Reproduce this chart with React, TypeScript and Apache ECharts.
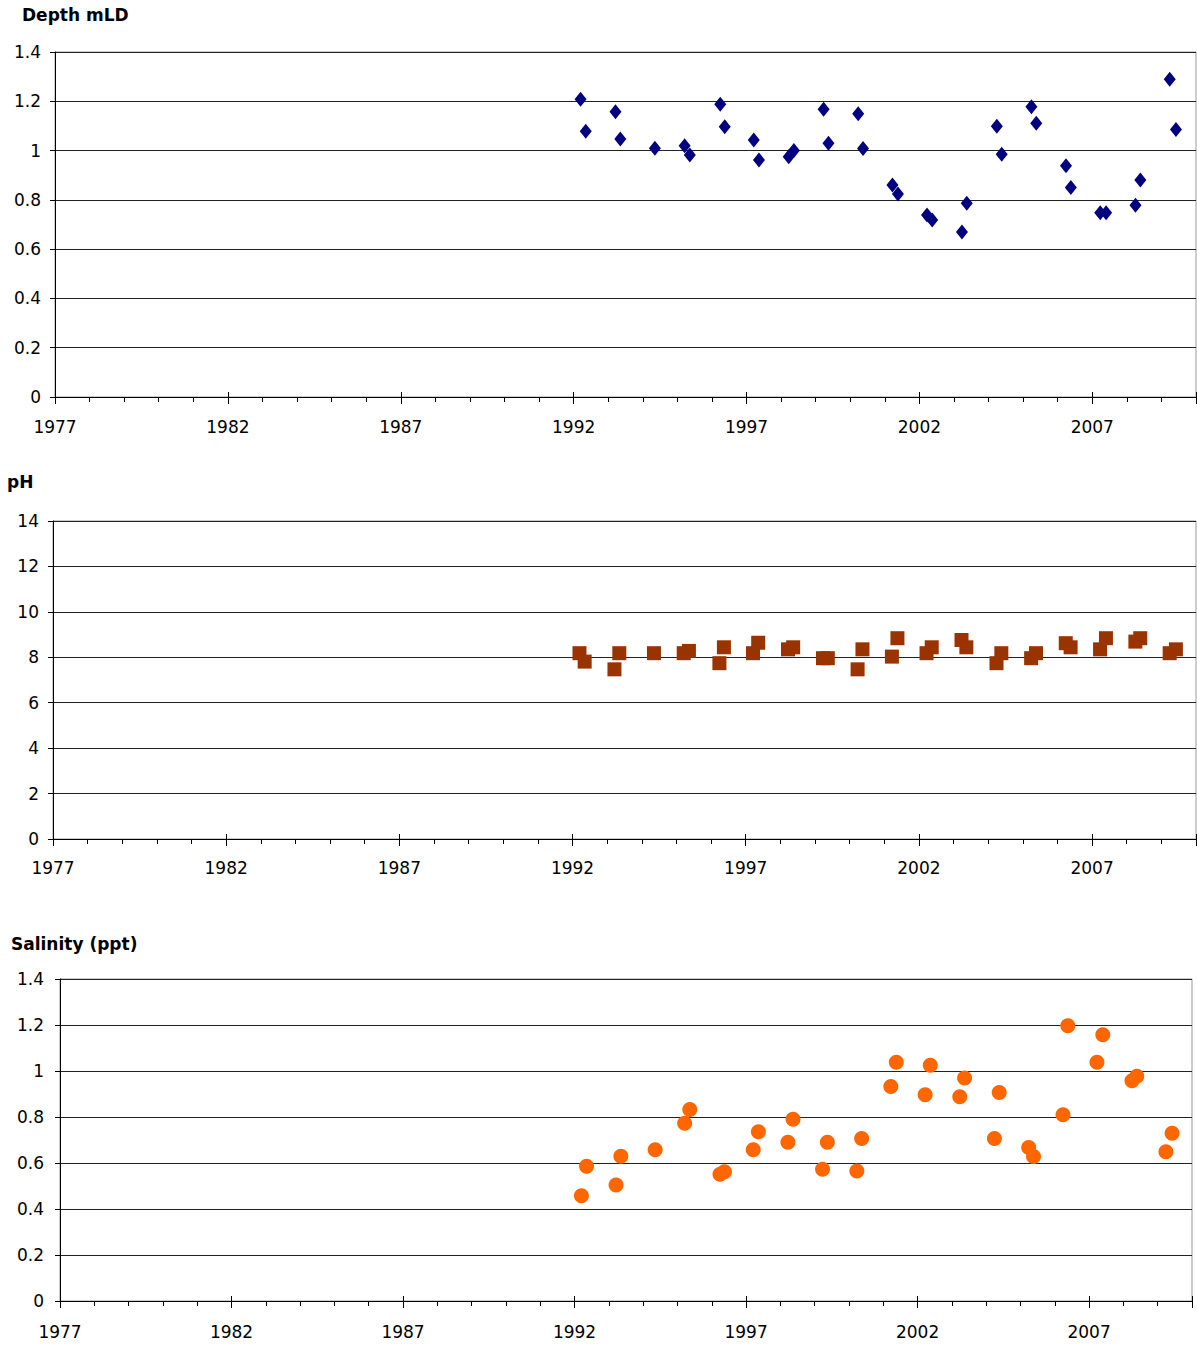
import React, { useEffect, useRef } from "react";
import * as echarts from "echarts";

const baseYear = 1977;
const endYear = 2010;
const yearTickInterval = 5;

const sampleDates = [
  1992.2, 1992.35, 1993.21, 1993.35, 1994.35, 1995.21, 1995.36, 1996.24, 1996.37,
  1997.21, 1997.36, 1998.22, 1998.37, 1999.23, 1999.37, 2000.23, 2000.37, 2001.22,
  2001.38, 2002.22, 2002.37, 2003.23, 2003.37, 2004.24, 2004.38, 2005.24, 2005.38,
  2006.24, 2006.38, 2007.23, 2007.4, 2008.25, 2008.39, 2009.24, 2009.42,
];

const depthValues = [
  1.208, 1.078, 1.158, 1.047, 1.009, 1.02, 0.982, 1.188, 1.097, 1.043, 0.962, 0.975,
  1.0, 1.168, 1.03, 1.149, 1.008, 0.86, 0.824, 0.739, 0.718, 0.67, 0.786, 1.099,
  0.985, 1.178, 1.111, 0.938, 0.85, 0.748, 0.748, 0.778, 0.881, 1.289, 1.086,
];

const phValues = [
  8.18, 7.81, 7.47, 8.18, 8.18, 8.18, 8.28, 7.74, 8.44, 8.18, 8.64, 8.35, 8.44, 7.96,
  7.96, 7.47, 8.35, 8.03, 8.84, 8.18, 8.44, 8.76, 8.44, 7.74, 8.18, 7.96, 8.18, 8.62,
  8.44, 8.35, 8.84, 8.69, 8.84, 8.18, 8.35,
];

const salinityValues = [
  0.458, 0.586, 0.504, 0.629, 0.658, 0.773, 0.833, 0.551, 0.562, 0.658, 0.736, 0.69,
  0.79, 0.573, 0.69, 0.565, 0.706, 0.933, 1.038, 0.897, 1.025, 0.888, 0.97, 0.706,
  0.906, 0.667, 0.628, 0.81, 1.197, 1.038, 1.158, 0.958, 0.977, 0.649, 0.729,
];

const titles = ["Depth mLD", "pH", "Salinity (ppt)"];

const FONT = "'DejaVu Sans', 'Liberation Sans', Arial, sans-serif";

export default function App() {
  const ref = useRef<HTMLDivElement>(null);

  useEffect(() => {
    document.body.style.margin = "0";
    const chart = echarts.init(ref.current!, null, { renderer: "svg" });

    const panels = [
      {
        title: titles[0], titleLeft: 22, titleTop: 6,
        grid: { left: 55, top: 52, width: 1141, height: 345 },
        yMax: 1.4, yInt: 0.2, values: depthValues,
        symbol: "diamond", symbolSize: [12, 15], color: "#000080",
        xMargin: 21, yMargin: 14,
      },
      {
        title: titles[1], titleLeft: 7, titleTop: 473,
        grid: { left: 53, top: 521, width: 1143, height: 318 },
        yMax: 14, yInt: 2, values: phValues,
        symbol: "rect", symbolSize: 14, color: "#993300",
        xMargin: 20, yMargin: 14,
      },
      {
        title: titles[2], titleLeft: 11, titleTop: 935,
        grid: { left: 60, top: 979, width: 1132, height: 322 },
        yMax: 1.4, yInt: 0.2, values: salinityValues,
        symbol: "circle", symbolSize: 15, color: "#FF6600",
        xMargin: 22, yMargin: 16,
      },
    ];

    const xAxes: any[] = [];
    const yAxes: any[] = [];
    const series: any[] = [];
    const lastTick = endYear - baseYear;

    panels.forEach((p, i) => {
      const commonX = {
        type: "value",
        gridIndex: i,
        min: 0,
        max: lastTick,
        interval: yearTickInterval,
        position: "bottom",
      };
      xAxes.push({
        ...commonX,
        axisLine: { show: true, onZero: false, lineStyle: { color: "#000", width: 1 } },
        axisTick: { show: true, inside: false, length: 7, lineStyle: { color: "#000" } },
        minorTick: { show: true, splitNumber: 5, length: 5, lineStyle: { color: "#000" } },
        splitLine: { show: false },
        axisLabel: {
          show: true,
          margin: p.xMargin,
          color: "#000",
          fontSize: 17,
          fontFamily: FONT,
          formatter: (v: number) => (v >= lastTick ? "" : String(v + baseYear)),
        },
      });
      xAxes.push({
        ...commonX,
        axisLine: { show: false },
        axisTick: { show: true, inside: true, length: 5, lineStyle: { color: "#000" } },
        splitLine: { show: false },
        axisLabel: { show: false },
      });
      yAxes.push({
        type: "value",
        gridIndex: i,
        min: 0,
        max: p.yMax,
        interval: p.yInt,
        axisLine: { show: true, onZero: false, lineStyle: { color: "#000", width: 1 } },
        axisTick: { show: true, inside: false, length: 5, lineStyle: { color: "#000" } },
        splitLine: { show: true, lineStyle: { color: "#222", width: 1 } },
        axisLabel: {
          margin: p.yMargin,
          color: "#000",
          fontSize: 17,
          fontFamily: FONT,
        },
      });
      series.push({
        type: "scatter",
        xAxisIndex: i * 2,
        yAxisIndex: i,
        symbol: p.symbol,
        symbolSize: p.symbolSize,
        itemStyle: { color: p.color, opacity: 1 },
        data: sampleDates.map((d, k) => [d - baseYear, p.values[k]]),
      });
    });

    chart.setOption({
      animation: false,
      backgroundColor: "#fff",
      title: panels.map((p) => ({
        text: p.title,
        left: p.titleLeft,
        top: p.titleTop,
        padding: 0,
        textStyle: { fontSize: 17, fontWeight: "bold", color: "#000", fontFamily: FONT },
      })),
      grid: panels.map((p) => ({
        ...p.grid,
        show: true,
        outerBoundsMode: "none",
        containLabel: false,
        borderColor: "#999",
        borderWidth: 1,
        backgroundColor: "transparent",
      })),
      xAxis: xAxes,
      yAxis: yAxes,
      series,
    });

    return () => chart.dispose();
  }, []);

  return <div ref={ref} style={{ width: 1197, height: 1347 }} />;
}
